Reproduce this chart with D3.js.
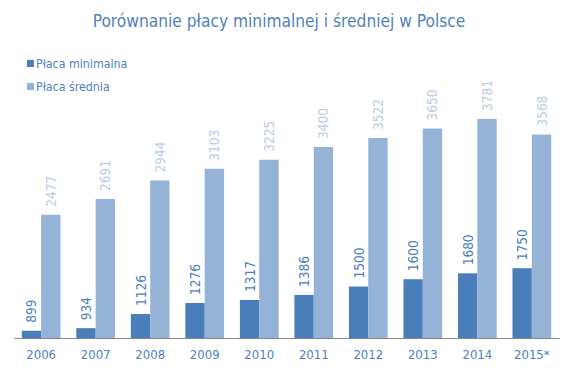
<!DOCTYPE html>
<html><head><meta charset="utf-8">
<script src="https://cdn.jsdelivr.net/npm/d3@7"></script>
<style>body{margin:0;background:#fff}svg{display:block}</style>
</head><body>
<script>
const years = ["2006","2007","2008","2009","2010","2011","2012","2013","2014","2015*"];
const minWage = [899,934,1126,1276,1317,1386,1500,1600,1680,1750];
const avgWage = [2477,2691,2944,3103,3225,3400,3522,3650,3781,3568];
const seriesNames = ["Płaca minimalna","Płaca średnia"];
const colors = ["#4a7ebb","#95b3d7"];
const labelColors = ["#4f81bd","#b9cde5"];

const W=575,H=370;
const svg=d3.select("body").append("svg").attr("width",W).attr("height",H);
const font="DejaVu Sans Condensed, DejaVu Sans, sans-serif";

const x=d3.scaleBand().domain(years).range([14,559]).paddingInner(0.29).paddingOuter(0.143);
const y=d3.scaleLinear().domain([800,4000]).range([338,102.8]);
const xs=d3.scaleBand().domain([0,1]).range([0,x.bandwidth()]);

svg.append("text").attr("x",279).attr("y",27).attr("text-anchor","middle")
  .attr("font-family",font).attr("font-size",17.2).attr("fill","#4f81bd")
  .text("Porównanie płacy minimalnej i średniej w Polsce");

const leg=svg.append("g");
seriesNames.forEach((n,i)=>{
  const yy=63+i*23;
  leg.append("rect").attr("x",27).attr("y",yy-3).attr("width",7).attr("height",7).attr("fill",colors[i]);
  leg.append("text").attr("x",36).attr("y",yy+4.5).attr("font-family",font).attr("font-size",12.3)
    .attr("fill","#4f81bd").text(n);
});

const data=[minWage,avgWage];
data.forEach((vals,si)=>{
  const g=svg.append("g");
  g.selectAll("rect").data(vals).join("rect")
    .attr("x",(d,i)=>x(years[i])+xs(si)).attr("width",xs.bandwidth())
    .attr("y",d=>y(d)).attr("height",d=>y.range()[0]-y(d)).attr("fill",colors[si]);
  g.selectAll("text").data(vals).join("text")
    .attr("transform",(d,i)=>`translate(${x(years[i])+xs(si)+xs.bandwidth()/2+5},${y(d)-8}) rotate(-90)`)
    .attr("font-family",font).attr("font-size",13.5).attr("fill",labelColors[si])
    .text(d=>d);
});

const ax=svg.append("g").attr("transform","translate(0,338)")
  .call(d3.axisBottom(x).tickSize(0).tickPadding(12));
ax.select(".domain").attr("stroke","#868686").attr("stroke-width",1.2);
ax.selectAll("text").attr("font-family",font).attr("font-size",13).attr("fill","#4f81bd");
</script>
</body></html>
